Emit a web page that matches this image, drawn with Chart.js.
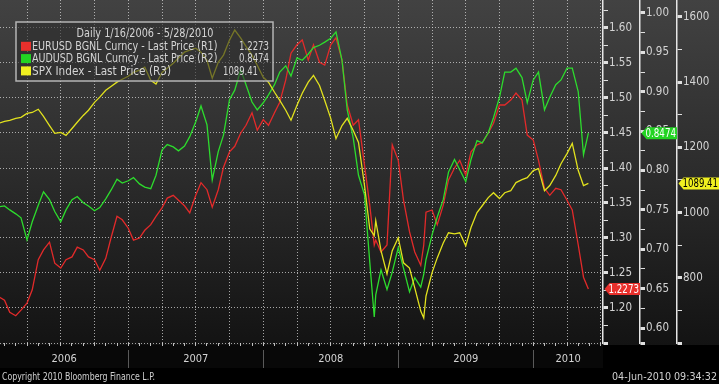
<!DOCTYPE html>
<html>
<head>
<meta charset="utf-8">
<script src="https://cdn.jsdelivr.net/npm/chart.js@4.4.1/dist/chart.umd.min.js"></script>
<style>
  html, body { margin: 0; padding: 0; background: #000; }
  #wrap { width: 719px; height: 384px; }
</style>
</head>
<body>
<div id="wrap"><canvas id="bbChart" width="719" height="384"></canvas></div>
<script>
// Data, roughly twice a month
const dates = [
    '2006-01-16',
    '2006-02-01', '2006-02-15', '2006-03-01', '2006-03-15', '2006-04-01', '2006-04-15',
    '2006-05-01', '2006-05-15', '2006-06-01', '2006-06-15', '2006-07-01', '2006-07-15',
    '2006-08-01', '2006-08-15', '2006-09-01', '2006-09-15', '2006-10-01', '2006-10-15',
    '2006-11-01', '2006-11-15', '2006-12-01', '2006-12-15',
    '2007-01-01', '2007-01-15', '2007-02-01', '2007-02-15', '2007-03-01', '2007-03-15',
    '2007-04-01', '2007-04-15', '2007-05-01', '2007-05-15', '2007-06-01', '2007-06-15',
    '2007-07-01', '2007-07-15', '2007-08-01', '2007-08-15', '2007-09-01', '2007-09-15',
    '2007-10-01', '2007-10-15', '2007-11-01', '2007-11-15', '2007-12-01', '2007-12-15',
    '2008-01-01', '2008-01-15', '2008-02-01', '2008-02-15', '2008-03-01', '2008-03-15',
    '2008-04-01', '2008-04-15', '2008-05-01', '2008-05-15', '2008-06-01', '2008-06-15',
    '2008-07-01', '2008-07-15', '2008-08-01', '2008-08-15', '2008-09-01', '2008-09-15',
    '2008-10-01', '2008-10-15', '2008-10-27', '2008-11-01', '2008-11-15', '2008-12-01', '2008-12-15',
    '2009-01-01', '2009-01-15', '2009-02-01', '2009-02-15', '2009-03-01', '2009-03-09', '2009-03-15',
    '2009-04-01', '2009-04-15', '2009-05-01', '2009-05-15', '2009-06-01', '2009-06-15',
    '2009-07-01', '2009-07-15', '2009-08-01', '2009-08-15', '2009-09-01', '2009-09-15',
    '2009-10-01', '2009-10-15', '2009-11-01', '2009-11-15', '2009-12-01', '2009-12-15',
    '2010-01-01', '2010-01-15', '2010-02-01', '2010-02-15', '2010-03-01', '2010-03-15',
    '2010-04-01', '2010-04-15', '2010-05-01', '2010-05-15', '2010-05-28'
];

const eurusd = [
    1.216, 1.211, 1.194, 1.189, 1.197, 1.207, 1.226, 1.269, 1.283, 1.294,
    1.264, 1.257, 1.269, 1.273, 1.287, 1.283, 1.273, 1.269, 1.254, 1.271,
    1.300, 1.331, 1.326, 1.314, 1.297, 1.300, 1.311, 1.319, 1.331, 1.343,
    1.357, 1.361, 1.354, 1.346, 1.336, 1.361, 1.379, 1.369, 1.344, 1.369,
    1.401, 1.423, 1.431, 1.450, 1.461, 1.479, 1.454, 1.469, 1.461, 1.479,
    1.494, 1.526, 1.564, 1.576, 1.583, 1.554, 1.576, 1.551, 1.547, 1.576,
    1.586, 1.554, 1.490, 1.461, 1.469, 1.404, 1.347, 1.290,
    1.297, 1.280, 1.290, 1.433, 1.411, 1.354, 1.309, 1.280, 1.261, 1.290,
    1.337, 1.340, 1.319, 1.347, 1.383, 1.400, 1.411, 1.390, 1.423, 1.433,
    1.436, 1.450, 1.464, 1.490, 1.490, 1.497, 1.507, 1.497, 1.447, 1.440,
    1.411, 1.371, 1.361, 1.371, 1.369, 1.354, 1.340, 1.290, 1.244, 1.2273
];

const audusd = [
    0.754, 0.755, 0.750, 0.745, 0.740, 0.712, 0.735, 0.756, 0.773, 0.763,
    0.748, 0.735, 0.750, 0.763, 0.767, 0.759, 0.755, 0.749, 0.753, 0.764,
    0.775, 0.789, 0.784, 0.787, 0.791, 0.783, 0.779, 0.777, 0.794, 0.826,
    0.833, 0.830, 0.825, 0.831, 0.843, 0.862, 0.882, 0.858, 0.788, 0.824,
    0.845, 0.890, 0.902, 0.928, 0.909, 0.887, 0.877, 0.886, 0.896, 0.909,
    0.925, 0.933, 0.920, 0.943, 0.940, 0.948, 0.956, 0.959, 0.963, 0.968,
    0.976, 0.940, 0.877, 0.841, 0.794, 0.769, 0.684, 0.614,
    0.642, 0.674, 0.649, 0.671, 0.702, 0.676, 0.646, 0.664, 0.652, 0.668,
    0.687, 0.718, 0.741, 0.763, 0.798, 0.814, 0.801, 0.786, 0.814, 0.838,
    0.835, 0.848, 0.867, 0.893, 0.925, 0.925, 0.930, 0.918, 0.886, 0.915,
    0.925, 0.877, 0.893, 0.909, 0.915, 0.930, 0.930, 0.900, 0.820, 0.8474
];

const spx = [
    1274, 1280, 1283, 1289, 1292, 1304, 1307, 1317, 1295, 1267,
    1243, 1246, 1237, 1258, 1277, 1298, 1314, 1338, 1354, 1375,
    1387, 1400, 1409, 1418, 1430, 1437, 1446, 1406, 1394, 1430,
    1443, 1458, 1474, 1492, 1498, 1504, 1492, 1467, 1412, 1461,
    1483, 1529, 1560, 1535, 1510, 1483, 1452, 1415, 1400, 1369,
    1344, 1314, 1283, 1329, 1366, 1400, 1421, 1390, 1344, 1289,
    1227, 1267, 1289, 1252, 1215, 1083, 950, 929,
    975, 883, 812, 883, 923, 846, 830, 769, 698, 677,
    744, 815, 861, 907, 938, 935, 938, 898, 954, 1000,
    1021, 1046, 1061, 1043, 1061, 1067, 1092, 1101, 1107, 1129,
    1135, 1067, 1083, 1114, 1150, 1181, 1212, 1129, 1083, 1089.41
];

const seriesNames = [
    'EURUSD BGNL Curncy - Last Price (R1)',
    'AUDUSD BGNL Curncy - Last Price (R2)',
    'SPX Index - Last Price (R3)'
];
const lastLabels = ['1.2273', '0.8474', '1089.41'];
const legendTitle = 'Daily 1/16/2006 - 5/28/2010';
const yearLabels = ['2006', '2007', '2008', '2009', '2010'];
const r1Ticks = [1.20, 1.25, 1.30, 1.35, 1.40, 1.45, 1.50, 1.55, 1.60];
const r2Ticks = [0.60, 0.65, 0.70, 0.75, 0.80, 0.85, 0.90, 0.95, 1.00];
const r3Ticks = [800, 1000, 1200, 1400, 1600];
const copyrightText = 'Copyright 2010 Bloomberg Finance L.P.';
const stampText = '04-Jun-2010 09:34:32';

// Axis window
const axisStart = '2006-01-19';
const axisEnd = '2010-07-07';

const FONT = "'DejaVu Sans Condensed', 'Liberation Sans', Arial, sans-serif";
const TEXT = '#d4d4d4';
const GRID = 'rgba(215, 215, 215, 0.75)';
const COLORS = ['#e32a2a', '#2ddc2d', '#e2e21e'];
const TAG_COLORS = ['#e8302c', '#22d422', '#f0f020'];
const TAG_TEXT = ['#ffffff', '#ffffff', '#000000'];
const NONE = 'rgba(0,0,0,0)';

// "2007-03-15" -> fractional year
function toYear(s) {
    const [y, m, d] = s.split('-').map(Number);
    return y + (m - 1) / 12 + (d - 1) / 360;
}

const xMin = toYear(axisStart);
const xMax = toYear(axisEnd);
const xs = dates.map(toYear);

// Labelled ticks, a minor tick halfway between them, and a marker at the axis bottom
function rightTicks(labels, step, min, max) {
    const out = [{ value: min, edge: true }];
    labels.forEach(v => {
        if (v - step / 2 > min) out.push({ value: v - step / 2 });
        out.push({ value: v, isLabel: true });
    });
    const top = labels[labels.length - 1] + step / 2;
    if (top < max) out.push({ value: top });
    return out;
}

function fixWidth(w) {
    return s => {
        s.width = w;
        s.paddingTop = 0; s.paddingBottom = 0; s.paddingLeft = 0; s.paddingRight = 0;
    };
}
function fixHeight(h) {
    return s => {
        s.height = h;
        s.paddingTop = 0; s.paddingBottom = 0; s.paddingLeft = 0; s.paddingRight = 0;
    };
}

function rightAxis(weight, width, min, max, labels, step, digits, drawGrid) {
    return {
        type: 'linear',
        position: 'right',
        weight: weight,
        min: min,
        max: max,
        afterBuildTicks: s => { s.ticks = rightTicks(labels, step, min, max); },
        afterFit: fixWidth(width),
        grid: {
            drawOnChartArea: drawGrid,
            color: c => (c.tick && (c.tick.isLabel || c.tick.edge)) ? GRID : NONE,
            lineWidth: 1,
            tickLength: 5,
            tickColor: '#e0e0e0',
            tickWidth: c => (c.tick && (c.tick.isLabel || c.tick.edge)) ? 3 : 1
        },
        border: { display: true, color: '#e6e6e6', width: 1.5, dash: [1, 2] },
        ticks: {
            autoSkip: false,
            padding: 1,
            color: TEXT,
            font: { size: 11.5 },
            callback: (v, i, t) => t[i].isLabel ? v.toFixed(digits) : ''
        }
    };
}

const backgroundPlugin = {
    id: 'bbBackground',
    beforeDraw(chart) {
        const { ctx, width, height } = chart;
        ctx.save();
        ctx.fillStyle = '#000';
        ctx.fillRect(0, 0, width, height);
        const g = ctx.createLinearGradient(0, 0, 0, 345);
        g.addColorStop(0, '#424242');
        g.addColorStop(0.5, '#2c2c2c');
        g.addColorStop(1, '#131313');
        ctx.fillStyle = g;
        ctx.fillRect(0, 0, width, 345);
        ctx.fillStyle = '#080808';
        ctx.fillRect(0, 345, chart.chartArea.right, 23);
        ctx.restore();
    }
};

const legendPlugin = {
    id: 'bbLegend',
    afterDatasetsDraw(chart) {
        const ctx = chart.ctx;
        const box = { x: 16, y: 22, w: 257, h: 59 };
        const valueRight = [269, 269, 258];
        ctx.save();
        ctx.fillStyle = 'rgba(45, 45, 45, 0.6)';
        ctx.fillRect(box.x, box.y, box.w, box.h);
        ctx.strokeStyle = '#b4b4b4';
        ctx.lineWidth = 1.5;
        ctx.strokeRect(box.x, box.y, box.w, box.h);

        ctx.font = '12px ' + FONT;
        ctx.fillStyle = TEXT;
        ctx.textBaseline = 'middle';
        ctx.textAlign = 'center';
        ctx.fillText(legendTitle, 145, 34, 137);

        seriesNames.forEach((name, i) => {
            const y = 46.8 + i * 12.3;
            ctx.fillStyle = TAG_COLORS[i];
            ctx.fillRect(21, y - 5, 10, 9);
            ctx.fillStyle = TEXT;
            ctx.textAlign = 'left';
            ctx.fillText(name, 32, y, name.length * 5.15);
            ctx.textAlign = 'right';
            ctx.fillText(lastLabels[i], valueRight[i], y, lastLabels[i].length * 5);
        });
        ctx.restore();
    }
};

const tagsPlugin = {
    id: 'bbTags',
    afterDraw(chart) {
        const ctx = chart.ctx;
        const ids = ['y1', 'y2', 'y3'];
        const series = [eurusd, audusd, spx];
        ctx.save();
        ids.forEach((id, i) => {
            const s = chart.scales[id];
            const y = s.getPixelForValue(series[i][series[i].length - 1]);
            const x0 = s.left + 1.5;
            const x1 = s.right;
            ctx.fillStyle = TAG_COLORS[i];
            ctx.beginPath();
            ctx.moveTo(x0, y);
            ctx.lineTo(x0 + 5, y - 6);
            ctx.lineTo(x1, y - 6);
            ctx.lineTo(x1, y + 6);
            ctx.lineTo(x0 + 5, y + 6);
            ctx.closePath();
            ctx.fill();
            ctx.fillStyle = TAG_TEXT[i];
            ctx.font = '12px ' + FONT;
            ctx.textAlign = 'left';
            ctx.textBaseline = 'middle';
            ctx.fillText(lastLabels[i], x0 + 4, y + 0.5, x1 - x0 - 5);
        });

        // footer
        ctx.fillStyle = '#cfcfcf';
        ctx.font = '11px ' + FONT;
        ctx.textBaseline = 'middle';
        ctx.textAlign = 'left';
        ctx.fillText(copyrightText, 2, 377, 153);
        ctx.textAlign = 'right';
        ctx.fillText(stampText, 717, 377, 105);
        ctx.restore();
    }
};

Chart.defaults.font.family = FONT;

const yearEdges = yearLabels.slice(1).map(Number);
const yearMids = yearLabels.map((y, i) => {
    const a = Math.max(Number(y), xMin);
    const b = Math.min(Number(y) + 1, xMax);
    return (a + b) / 2;
});

const toPoints = arr => arr.map((v, i) => ({ x: xs[i], y: v }));

const ctx = document.getElementById('bbChart').getContext('2d');
new Chart(ctx, {
    type: 'line',
    data: {
        datasets: [
            { label: seriesNames[0], data: toPoints(eurusd), yAxisID: 'y1', borderColor: COLORS[0], order: 2 },
            { label: seriesNames[1], data: toPoints(audusd), yAxisID: 'y2', borderColor: COLORS[1], order: 1 },
            { label: seriesNames[2], data: toPoints(spx), yAxisID: 'y3', borderColor: COLORS[2], order: 0 }
        ]
    },
    options: {
        responsive: false,
        animation: false,
        layout: { padding: { left: 0, top: 0, right: 0, bottom: 16 } },
        datasets: {
            line: { borderWidth: 1.3, pointRadius: 0, tension: 0, fill: false }
        },
        plugins: {
            legend: { display: false },
            tooltip: { enabled: false }
        },
        scales: {
            x: {
                type: 'linear',
                position: 'bottom',
                weight: 0,
                min: xMin,
                max: xMax,
                afterBuildTicks: s => {
                    const t = [];
                    for (let y = 2006; y <= 2010; y++) {
                        for (let m = 0; m < 12; m++) {
                            const v = y + m / 12;
                            if (v > s.min && v < s.max) t.push({ value: v, quarter: m % 3 === 0 });
                        }
                    }
                    s.ticks = t;
                },
                afterFit: fixHeight(7),
                grid: {
                    color: c => (c.tick && c.tick.quarter) ? GRID : NONE,
                    lineWidth: 1,
                    tickLength: 3,
                    tickColor: '#bdbdbd'
                },
                border: { display: false, dash: [1, 2] },
                ticks: { display: false }
            },
            x2: {
                type: 'linear',
                position: 'bottom',
                weight: 1,
                min: xMin,
                max: xMax,
                afterBuildTicks: s => {
                    const t = yearEdges.map(v => ({ value: v, sep: true }))
                        .concat(yearMids.map((v, i) => ({ value: v, text: yearLabels[i] })));
                    t.sort((a, b) => a.value - b.value);
                    s.ticks = t;
                },
                afterFit: fixHeight(18),
                grid: {
                    drawOnChartArea: false,
                    tickLength: 18,
                    tickColor: c => (c.tick && c.tick.sep) ? '#5a5a5a' : NONE,
                    tickWidth: 1
                },
                border: { display: false },
                ticks: {
                    autoSkip: false,
                    maxRotation: 0,
                    padding: -15,
                    color: TEXT,
                    font: { size: 11 },
                    callback: (v, i, t) => t[i].sep ? '' : t[i].text
                }
            },
            y1: rightAxis(0, 37, 1.15, 1.64, r1Ticks, 0.05, 2, true),
            y2: rightAxis(1, 37, 0.581, 1.0165, r2Ticks, 0.05, 2, false),
            y3: rightAxis(2, 42, 600, 1652, r3Ticks, 200, 0, false)
        }
    },
    plugins: [backgroundPlugin, legendPlugin, tagsPlugin]
});
</script>
</body>
</html>
